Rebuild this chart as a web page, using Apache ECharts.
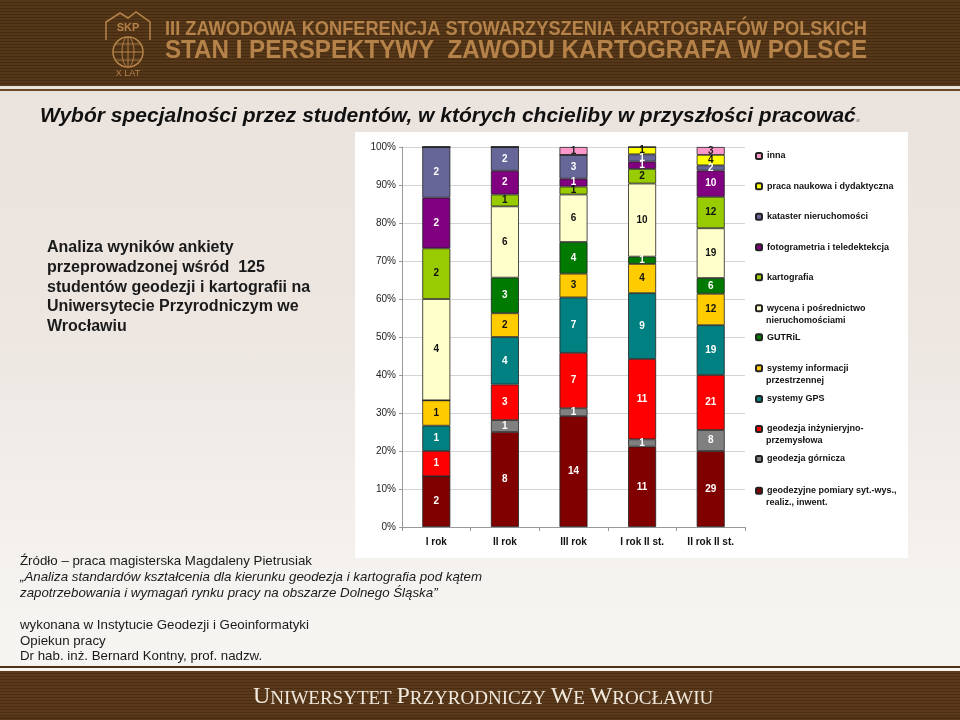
<!DOCTYPE html>
<html><head><meta charset="utf-8">
<script src="https://cdn.jsdelivr.net/npm/echarts@6/dist/echarts.min.js"></script>
<style>
html,body{margin:0;padding:0;width:960px;height:720px;overflow:hidden}
.abs{position:absolute;left:0;width:960px}
#bg{top:0;height:720px;background:linear-gradient(#eae2dc 0px,#ece5e0 300px,#f6f4f1 620px,#f7f5f2 720px)}
#hdr{top:0;height:86px;background:repeating-linear-gradient(to bottom,#553719 0px,#553719 1.5px,#472b11 1.5px,#472b11 3px)}
#hl{top:88.5px;height:2px;background:#6a4827}
#fl{top:666px;height:2px;background:#4f3216}
#ftr{top:671px;height:49px;background:repeating-linear-gradient(to bottom,#5a3a1b 0px,#5a3a1b 1.5px,#4a2d12 1.5px,#4a2d12 3px)}
#chart{position:absolute;left:0;top:0;width:960px;height:720px}
</style></head>
<body>
<div id="bg" class="abs"></div><div id="hdr" class="abs"></div><div id="hl" class="abs"></div>
<div id="fl" class="abs"></div><div id="ftr" class="abs"></div>
<div id="chart"></div>
<script>
const categories = ['I rok', 'II rok', 'III rok', 'I rok II st.', 'II rok II st.'];
const yTicks = [0, 10, 20, 30, 40, 50, 60, 70, 80, 90, 100];
// counts of answers per category (stack order: bottom -> top)
const pomiary       = [2, 8, 14, 11, 29];
const gornicza      = [0, 1, 1, 1, 8];
const inzynieryjna  = [1, 3, 7, 11, 21];
const gps           = [1, 4, 7, 9, 19];
const sip           = [1, 2, 3, 4, 12];
const gutril        = [0, 3, 4, 1, 6];
const wycena        = [4, 6, 6, 10, 19];
const kartografia   = [2, 1, 1, 2, 12];
const fotogrametria = [2, 2, 1, 1, 10];
const kataster      = [2, 2, 3, 1, 2];
const praca         = [0, 0, 0, 1, 4];
const inna          = [0, 0, 1, 0, 3];

const seriesNames = [
  'geodezyjne pomiary syt.-wys., realiz., inwent.',
  'geodezja górnicza',
  'geodezja inżynieryjno-przemysłowa',
  'systemy GPS',
  'systemy informacji przestrzennej',
  'GUTRiL',
  'wycena i pośrednictwo nieruchomościami',
  'kartografia',
  'fotogrametria i teledektekcja',
  'kataster nieruchomości',
  'praca naukowa i dydaktyczna',
  'inna'
];
const legendLine1 = ['geodezyjne pomiary syt.-wys.,', 'geodezja górnicza', 'geodezja inżynieryjno-', 'systemy GPS',
  'systemy informacji', 'GUTRiL', 'wycena i pośrednictwo', 'kartografia', 'fotogrametria i teledektekcja',
  'kataster nieruchomości', 'praca naukowa i dydaktyczna', 'inna'];
const legendLine2 = ['realiz., inwent.', '', 'przemysłowa', '', 'przestrzennej', '', 'nieruchomościami', '', '', '', '', ''];

const raws = [pomiary, gornicza, inzynieryjna, gps, sip, gutril, wycena, kartografia, fotogrametria, kataster, praca, inna];
const colors = ['#800000', '#808080', '#ff0000', '#008080', '#ffcc00', '#007a00', '#ffffcc', '#99cc00', '#800080', '#666699', '#ffff00', '#ff99cc'];
const labelColors = ['#fff', '#fff', '#fff', '#fff', '#111', '#fff', '#111', '#111', '#fff', '#fff', '#111', '#222'];

const F = '"Liberation Sans", Arial, sans-serif';
const totals = categories.map((_, j) => raws.reduce((s, r) => s + r[j], 0));

const series = seriesNames.map((n, i) => ({
  name: n, type: 'bar', stack: 'all', barWidth: 28,
  data: raws[i].map((v, j) => v / totals[j] * 100),
  itemStyle: { color: colors[i], borderColor: '#222', borderWidth: 0.8 },
  label: {
    show: true, position: 'inside', color: labelColors[i], fontSize: 10, fontWeight: 'bold', fontFamily: F,
    formatter: p => raws[i][p.dataIndex] ? String(raws[i][p.dataIndex]) : ''
  },
  emphasis: { disabled: true }
}));

// legend rows (top item = last series)
const legendRowY = [156, 186.3, 216.7, 247.3, 277.3, 308.3, 337.3, 368.3, 399, 429, 459, 490.7];
const legends = [];
const legendSecond = [];
for (let k = 0; k < 12; k++) {
  const i = 11 - k;
  const y = legendRowY[k];
  legends.push({
    data: [seriesNames[i]], left: 755, top: y - 6, orient: 'vertical', padding: 0, itemGap: 0,
    itemWidth: 6, itemHeight: 6, selectedMode: false,
    formatter: () => legendLine1[i],
    textStyle: { fontSize: 9, fontWeight: 'bold', color: '#111', fontFamily: F, lineHeight: 12 }
  });
  if (legendLine2[i]) {
    legendSecond.push({ type: 'text', x: 766, y: y + 12, silent: true,
      style: { text: legendLine2[i], font: 'bold 9px ' + F, fill: '#111', verticalAlign: 'middle' } });
  }
}

// header text scaling to fit width
const mc = document.createElement('canvas').getContext('2d');
function fitScale(text, font, w) { mc.font = font; return w / mc.measureText(text).width; }
const h1 = 'III ZAWODOWA KONFERENCJA STOWARZYSZENIA KARTOGRAFÓW POLSKICH';
const h2 = 'STAN I PERSPEKTYWY  ZAWODU KARTOGRAFA W POLSCE';
const h1f = 'bold 20px ' + F, h2f = 'bold 26px ' + F;
const s1 = fitScale(h1, h1f, 702), s2 = fitScale(h2, h2f, 702);
const HC = '#b5834a';
const TF = '13.3px ' + F, TFI = 'italic 13.3px ' + F;
const SERIF = '"Liberation Serif", "Times New Roman", serif';

const graphic = [
  { type: 'rect', z: -10, silent: true, shape: { x: 355, y: 132, width: 553, height: 426 }, style: { fill: '#ffffff' } },
  // header
  { type: 'text', x: 165, y: 29, scaleX: s1, silent: true, style: { text: h1, font: h1f, fill: HC, verticalAlign: 'middle' } },
  { type: 'text', x: 165, y: 51, scaleX: s2, silent: true, style: { text: h2, font: h2f, fill: HC, verticalAlign: 'middle' } },
  { type: 'polyline', silent: true, shape: { points: [[106, 40], [106, 22], [120, 13], [128, 18], [136, 12], [150, 22], [150, 40]] }, style: { stroke: HC, lineWidth: 1.5, fill: null } },
  { type: 'text', x: 128, y: 28, silent: true, style: { text: 'SKP', font: 'bold 11px ' + F, fill: HC, align: 'center', verticalAlign: 'middle' } },
  { type: 'circle', silent: true, shape: { cx: 128, cy: 52, r: 15 }, style: { stroke: HC, lineWidth: 1.5, fill: null } },
  { type: 'ellipse', silent: true, shape: { cx: 128, cy: 52, rx: 6, ry: 15 }, style: { stroke: HC, lineWidth: 1, fill: null } },
  { type: 'line', silent: true, shape: { x1: 113, y1: 52, x2: 143, y2: 52 }, style: { stroke: HC, lineWidth: 1 } },
  { type: 'line', silent: true, shape: { x1: 128, y1: 37, x2: 128, y2: 67 }, style: { stroke: HC, lineWidth: 1 } },
  { type: 'line', silent: true, shape: { x1: 116, y1: 44, x2: 140, y2: 44 }, style: { stroke: HC, lineWidth: 0.8 } },
  { type: 'line', silent: true, shape: { x1: 116, y1: 60, x2: 140, y2: 60 }, style: { stroke: HC, lineWidth: 0.8 } },
  { type: 'text', x: 128, y: 74, silent: true, style: { text: 'X LAT', font: '9px ' + F, fill: HC, align: 'center', verticalAlign: 'middle' } },
  // title
  { type: 'text', x: 40, y: 116, silent: true, style: {
      text: '{a|Wybór specjalności przez studentów, w których chcieliby w przyszłości pracować}{b|.}',
      rich: { a: { font: 'italic bold 21px ' + F, fill: '#111' }, b: { font: 'italic bold 21px ' + F, fill: '#aaa' } },
      verticalAlign: 'middle' } },
  // left description
  { type: 'text', x: 47, y: 238, silent: true, style: {
      text: 'Analiza wyników ankiety\nprzeprowadzonej wśród  125\nstudentów geodezji i kartografii na\nUniwersytecie Przyrodniczym we\nWrocławiu',
      font: 'bold 16px ' + F, fill: '#1a1a1a', lineHeight: 19.7, verticalAlign: 'top' } },
  // source text
  { type: 'text', x: 20, y: 561.7, silent: true, style: { text: 'Źródło – praca magisterska Magdaleny Pietrusiak', font: TF, fill: '#1a1a1a', verticalAlign: 'middle' } },
  { type: 'text', x: 20, y: 577.7, silent: true, style: { text: '„Analiza standardów kształcenia dla kierunku geodezja i kartografia pod kątem', font: TFI, fill: '#1a1a1a', verticalAlign: 'middle' } },
  { type: 'text', x: 20, y: 593.3, silent: true, style: { text: 'zapotrzebowania i wymagań rynku pracy na obszarze Dolnego Śląska”', font: TFI, fill: '#1a1a1a', verticalAlign: 'middle' } },
  { type: 'text', x: 20, y: 625, silent: true, style: { text: 'wykonana w Instytucie Geodezji i Geoinformatyki', font: TF, fill: '#1a1a1a', verticalAlign: 'middle' } },
  { type: 'text', x: 20, y: 641, silent: true, style: { text: 'Opiekun pracy', font: TF, fill: '#1a1a1a', verticalAlign: 'middle' } },
  { type: 'text', x: 20, y: 656.7, silent: true, style: { text: 'Dr hab. inż. Bernard Kontny, prof. nadzw.', font: TF, fill: '#1a1a1a', verticalAlign: 'middle' } },
  // footer
  { type: 'text', x: 253, y: 709, silent: true, style: {
      text: '{b|U}{s|NIWERSYTET} {b|P}{s|RZYRODNICZY} {b|W}{s|E} {b|W}{s|ROCŁAWIU}',
      rich: {
        b: { fontFamily: SERIF, fontSize: 24, color: '#f1e9de', lineHeight: 24, verticalAlign: 'bottom' },
        s: { fontFamily: SERIF, fontSize: 19, color: '#f1e9de', lineHeight: 19, verticalAlign: 'bottom' }
      },
      fontFamily: SERIF, fontSize: 19, fill: '#f1e9de', verticalAlign: 'bottom' } }
].concat(legendSecond);

const chart = echarts.init(document.getElementById('chart'), null, { renderer: 'canvas' });
chart.setOption({
  backgroundColor: 'transparent',
  animation: false,
  grid: { left: 402, right: 215, top: 147, bottom: 193, containLabel: false, outerBoundsMode: 'none' },
  legend: legends,
  xAxis: {
    type: 'category', data: categories,
    axisLine: { show: true, lineStyle: { color: '#999', width: 1 } },
    axisTick: { show: true, length: 4, lineStyle: { color: '#999' } },
    axisLabel: { color: '#111', fontSize: 10, fontWeight: 'bold', fontFamily: F, margin: 10 },
    splitLine: { show: false }
  },
  yAxis: {
    type: 'value', min: yTicks[0], max: yTicks[yTicks.length - 1], interval: 10,
    axisLine: { show: true, lineStyle: { color: '#999', width: 1 } },
    axisTick: { show: true, length: 3, lineStyle: { color: '#999' } },
    axisLabel: { color: '#222', fontSize: 10, fontFamily: F, margin: 6, formatter: '{value}%' },
    splitLine: { show: true, lineStyle: { color: '#d4d4d4', width: 1 } }
  },
  graphic: graphic,
  series: series
});
</script>
</body></html>
